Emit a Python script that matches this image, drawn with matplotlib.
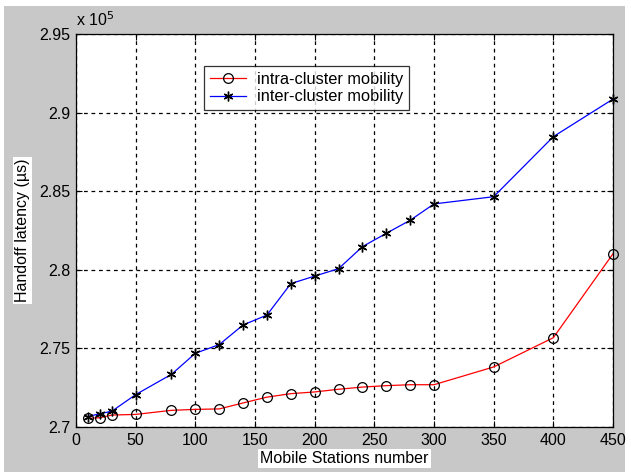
import matplotlib.pyplot as plt
from matplotlib.ticker import FuncFormatter
from matplotlib.patches import Rectangle

plt.rcParams['font.family'] = ['Liberation Sans', 'DejaVu Sans']

# Mobile stations number
stations = [10, 20, 30, 50, 80, 100, 120, 140, 160, 180, 200, 220, 240,
            260, 280, 300, 350, 400, 450]

# Handoff latency (x 10^5 us)
intra_latency = [2.7055, 2.7059, 2.7076, 2.7080, 2.7106, 2.7112, 2.7115,
                 2.7153, 2.7190, 2.7212, 2.7223, 2.7240, 2.7254, 2.7263,
                 2.7269, 2.7269, 2.7382, 2.7568, 2.8102]
inter_latency = [2.7066, 2.7085, 2.7100, 2.7206, 2.7335, 2.7469, 2.7524,
                 2.7649, 2.7712, 2.7912, 2.7960, 2.8007, 2.8147, 2.8232,
                 2.8315, 2.8419, 2.8465, 2.8847, 2.9086]

x_ticks = [0, 50, 100, 150, 200, 250, 300, 350, 400, 450]
y_ticks = [2.70, 2.75, 2.80, 2.85, 2.90, 2.95]

fig = plt.figure(figsize=(6.31, 4.73), dpi=100)
fig.patch.set_facecolor('white')
# grey panel like the matlab figure window
fig.patches.append(Rectangle((4 / 631, 1 / 473), 621 / 631, 466 / 473,
                             transform=fig.transFigure, facecolor='#c8c8c8',
                             edgecolor='none', zorder=-10))

ax = fig.add_axes([76 / 631, 1 - 427 / 473, 537 / 631, 393 / 473])
ax.set_facecolor('white')

ax.plot(stations, intra_latency, color='red', lw=0.9, marker='o', ms=7,
        mfc='none', mec='black', mew=0.9, label='intra-cluster mobility',
        clip_on=False)
ax.plot(stations, inter_latency, color='blue', lw=0.9, marker=(6, 2, 0),
        ms=7, mec='black', mew=1.0, label='inter-cluster mobility',
        clip_on=False)

ax.set_xlim(0, 450)
ax.set_ylim(2.70, 2.95)
ax.set_xticks(x_ticks)
ax.set_yticks(y_ticks)
ax.yaxis.set_major_formatter(FuncFormatter(lambda v, p: f'{v:g}'))
ax.grid(True, color='black', linestyle=(0, (3, 3)), lw=0.9)
ax.tick_params(direction='in', length=4, labelsize=11.5, colors='black',
               top=True, right=True, pad=4)
for s in ax.spines.values():
    s.set_color('black')
    s.set_linewidth(0.9)

ax.set_xlabel('Mobile Stations number', fontsize=11.5,
              bbox=dict(facecolor='white', edgecolor='none', pad=1.5))
ax.set_ylabel('Handoff latency (µs)', fontsize=11.5,
              bbox=dict(facecolor='white', edgecolor='none', pad=1.5))
ax.xaxis.set_label_coords(0.5, -0.06)
ax.yaxis.set_label_coords(-0.086, 0.5)

ax.text(0.0, 1.012, r'x 10$^5$', transform=ax.transAxes, fontsize=11.5,
        ha='left', va='bottom')

leg = ax.legend(loc='upper left', bbox_to_anchor=(0.238, 0.918),
                fontsize=11.8, frameon=True, fancybox=False, borderpad=0.35,
                handlelength=2.2, handletextpad=0.7, labelspacing=0.15,
                borderaxespad=0)
leg.get_frame().set_edgecolor('black')
leg.get_frame().set_linewidth(0.9)

fig.savefig('out.png', dpi=100)
